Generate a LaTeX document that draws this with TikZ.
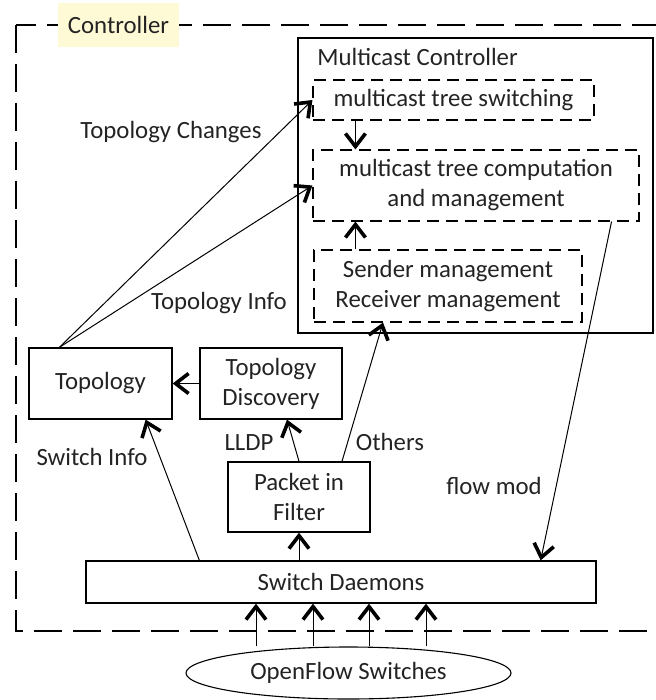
\documentclass[tikz,border=0pt]{standalone}
\usepackage{fontspec}
\setmainfont{Carlito}
\usetikzlibrary{arrows.meta,shapes.geometric}
\definecolor{labelbg}{RGB}{255,250,214}
\definecolor{ink}{RGB}{35,35,35}
\begin{document}
\begin{tikzpicture}[x=0.5pt,y=-0.5pt,
  font=\fontsize{12.4}{15}\selectfont,
  box/.style={draw, line width=0.65pt, inner sep=0pt, align=center, text=ink},
  dbox/.style={box, line width=0.55pt, dash pattern=on 6pt off 3.5pt},
  conn/.style={line width=0.5pt, -{Straight Barb[length=6.5pt,width=10pt,line width=1.8pt]}},
  lbl/.style={inner sep=0pt, text=ink},
]
\useasboundingbox (0,0) rectangle (655,700);

% controller frame
\draw[line width=0.6pt, dash pattern=on 14pt off 5.5pt] (16,25) rectangle (668,631);
\node[lbl, fill=labelbg, minimum width=60.5pt, minimum height=22pt] (ctl) at (118.5,25) {Controller};

% multicast controller and its parts
\node[box, minimum width=177.5pt, minimum height=147.5pt] (mc) at (475.5,185.5) {};
\node[lbl, anchor=west] (mctitle) at (317,57) {Multicast Controller};
\node[dbox, minimum width=140.5pt, minimum height=20pt] (sw) at (453.5,100) {multicast tree switching};
\node[dbox, minimum width=163pt, minimum height=35.5pt] (comp) at (476,185.5) {multicast tree computation\\and management};
\node[dbox, minimum width=134pt, minimum height=36pt] (snd) at (448,286) {Sender management\\Receiver management};

% other modules
\node[box, minimum width=71.5pt, minimum height=35.5pt] (topo) at (100.5,383.5) {Topology};
\node[box, minimum width=71pt, minimum height=35.5pt] (td) at (271,383.5) {Topology\\Discovery};
\node[box, minimum width=71pt, minimum height=35pt] (pif) at (299,497) {Packet in\\Filter};
\node[box, minimum width=255pt, minimum height=21pt] (sd) at (341,582) {Switch Daemons};
\node[box, ellipse, line width=0.55pt, minimum width=162.5pt, minimum height=26pt] (ofs) at (348.5,673) {OpenFlow Switches};

% connectors
\coordinate (topotop) at ([xshift=15.5pt]topo.north west);
\draw[conn] (topotop) -- (sw.west);
\draw[conn] (topotop) -- (comp.west);

\coordinate (swdown) at ([xshift=21.5pt]sw.south west);
\draw[conn] (swdown) -- (swdown |- comp.north);
\coordinate (sndup) at ([xshift=21pt]snd.north west);
\draw[conn] (sndup) -- (sndup |- comp.south);

\draw[conn] (td.west) -- (topo.east);
\draw[conn] ([xshift=57pt]sd.north west) -- ([xshift=-13.5pt]topo.south east);
\draw[conn] (pif.north) -- ([xshift=8pt]td.south);
\draw[conn] ([xshift=21.5pt]pif.north) -- ([xshift=-32.5pt]snd.south);
\draw[conn] ([xshift=-14pt]comp.south east) -- ([xshift=-28pt]sd.north east);
\draw[conn] (pif.south |- sd.north) -- (pif.south);

\foreach \dx/\n in {-46.25/a, -17.75/b, 10.25/c, 38.75/d}{
  \coordinate (of\n) at ([xshift=\dx pt]ofs.north);
  \draw[conn] (of\n) -- (of\n |- sd.south);
}

% connector labels
\node[lbl] (lchg) at (171,132) {Topology Changes};
\node[lbl] (linfo) at (219,303) {Topology Info};
\node[lbl] (lswi) at (92,457) {Switch Info};
\node[lbl] (llldp) at (249,443) {LLDP};
\node[lbl] (loth) at (390,442) {Others};
\node[lbl] (lflow) at (494,486) {flow mod};
\end{tikzpicture}
\end{document}
